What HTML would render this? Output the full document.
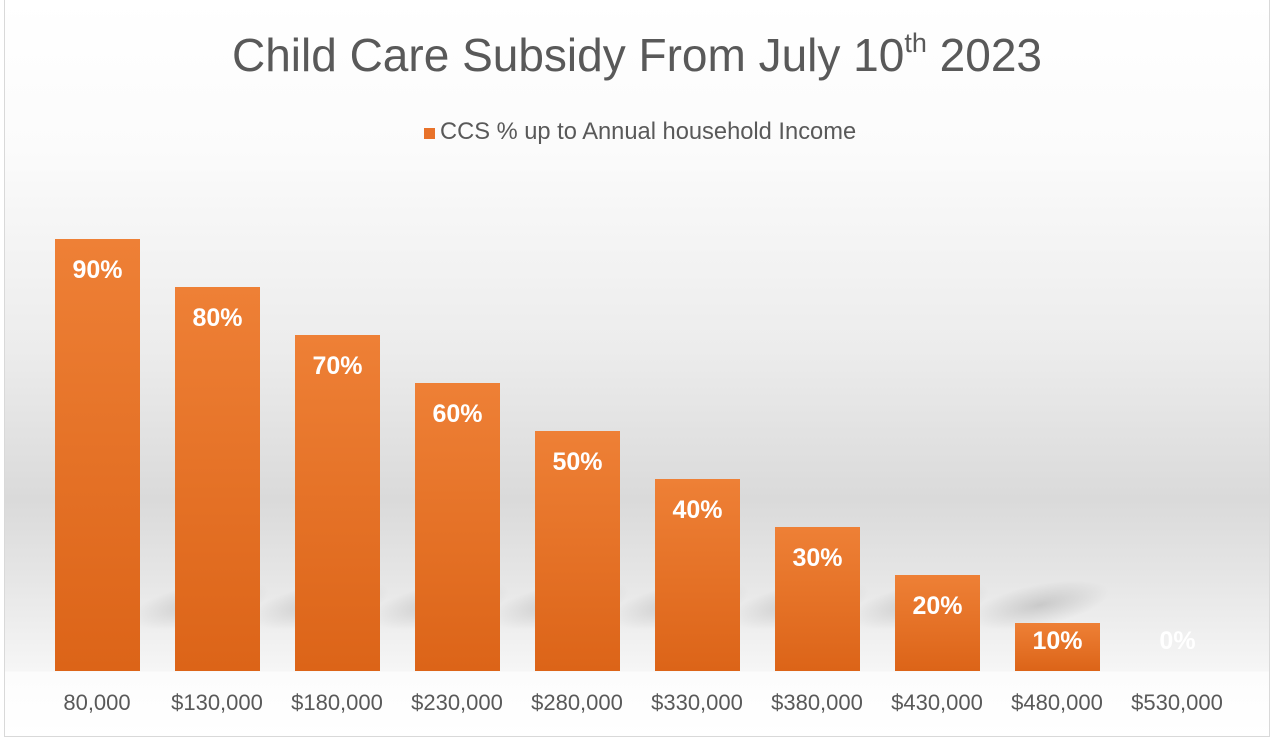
<!DOCTYPE html>
<html><head><style>
body{margin:0;width:1274px;height:740px;overflow:hidden;font-family:"Liberation Sans",sans-serif;background:#fff;position:relative}
#c{position:absolute;left:4px;top:0;width:1266px;height:737px;border:1px solid #d9d9d9;border-top:none;box-sizing:border-box;
background:linear-gradient(to bottom,#fff 0px,#fbfbfb 150px,#ececec 350px,#dadada 500px,#e6e6e6 580px,#f6f6f6 671px,#fcfcfc 672px,#fff 737px)}
.s{position:absolute;height:50px;top:580px;width:120px;background:radial-gradient(ellipse,rgba(0,0,0,.14),rgba(0,0,0,0) 70%);transform:skewX(-55deg);z-index:1}
.b{position:absolute;width:85px;background:linear-gradient(to bottom,#ee8036,#dc6418);z-index:2}
.v{position:absolute;width:85px;text-align:center;color:#fff;font-weight:bold;font-size:25px;z-index:3}
.x{position:absolute;width:140px;text-align:center;color:#595959;font-size:22px;top:690px;z-index:3}
</style></head><body>
<div id="c"></div>
<div style="position:absolute;left:0;width:1274px;top:28px;text-align:center;font-size:46px;color:#595959">Child Care Subsidy From July 10<sup style="font-size:27px;vertical-align:19px">th</sup> 2023</div>
<div style="position:absolute;left:424px;top:119px;font-size:23.7px;color:#595959"><span style="display:inline-block;width:11px;height:11px;background:#e8722a;margin-right:5px"></span>CCS % up to Annual household Income</div>

<div class="s" style="left:140px"></div><div class="s" style="left:260px"></div><div class="s" style="left:380px"></div><div class="s" style="left:500px"></div><div class="s" style="left:620px"></div><div class="s" style="left:740px"></div><div class="s" style="left:860px"></div><div class="s" style="left:980px"></div>

<div class="b" style="left:55px;top:239px;height:432px"></div><div class="v" style="left:55px;top:256px">90%</div>
<div class="b" style="left:175px;top:287px;height:384px"></div><div class="v" style="left:175px;top:304px">80%</div>
<div class="b" style="left:295px;top:335px;height:336px"></div><div class="v" style="left:295px;top:352px">70%</div>
<div class="b" style="left:415px;top:383px;height:288px"></div><div class="v" style="left:415px;top:400px">60%</div>
<div class="b" style="left:535px;top:431px;height:240px"></div><div class="v" style="left:535px;top:448px">50%</div>
<div class="b" style="left:655px;top:479px;height:192px"></div><div class="v" style="left:655px;top:496px">40%</div>
<div class="b" style="left:775px;top:527px;height:144px"></div><div class="v" style="left:775px;top:544px">30%</div>
<div class="b" style="left:895px;top:575px;height:96px"></div><div class="v" style="left:895px;top:592px">20%</div>
<div class="b" style="left:1015px;top:623px;height:48px"></div><div class="v" style="left:1015px;top:627px">10%</div>
<div class="v" style="left:1135px;top:627px">0%</div>

<div class="x" style="left:27px">80,000</div>
<div class="x" style="left:147px">$130,000</div>
<div class="x" style="left:267px">$180,000</div>
<div class="x" style="left:387px">$230,000</div>
<div class="x" style="left:507px">$280,000</div>
<div class="x" style="left:627px">$330,000</div>
<div class="x" style="left:747px">$380,000</div>
<div class="x" style="left:867px">$430,000</div>
<div class="x" style="left:987px">$480,000</div>
<div class="x" style="left:1107px">$530,000</div>
</body></html>
